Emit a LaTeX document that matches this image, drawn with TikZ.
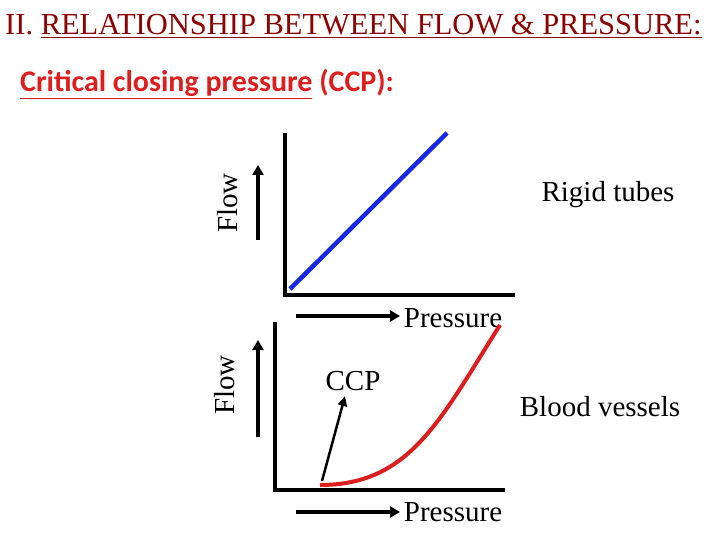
\documentclass[tikz,border=0pt]{standalone}
\usepackage{fontspec}
\setmainfont{Liberation Serif}
\newfontfamily\calib{Carlito}
\usetikzlibrary{arrows.meta}
\definecolor{dred}{RGB}{140,0,0}
\definecolor{bred}{RGB}{220,30,30}
\definecolor{cblue}{RGB}{20,40,230}
\begin{document}
\begin{tikzpicture}[x=1pt,y=-1pt,
  ax/.style={line width=3.5pt},
  arr/.style={line width=3.5pt,-{Triangle[length=10pt,width=11pt]}},
  lab/.style={font=\fontsize{29}{31}\selectfont}]
\useasboundingbox (0,0) rectangle (720,540);
% title
\node[anchor=base west,text=dred,font=\fontsize{30.5}{32}\selectfont,inner sep=0] (title) at (5,35) {II. \underline{RELATIONSHIP BETWEEN FLOW \& PRESSURE:}};
\node[anchor=base west,text=bred,font=\calib\bfseries\fontsize{30}{32}\selectfont,inner sep=0] (sub) at (20,92) {\underline{Critical closing pressure} (CCP):};
% top graph
\coordinate (t0) at (285,295);
\coordinate (ttop) at (285,133);
\coordinate (tr) at (515,295);
\draw[ax] (ttop) -- (t0) -- (tr);
\coordinate (b1) at (290,289);
\coordinate (b2) at (447,133);
\draw[cblue,line width=4.5pt] (b1) -- (b2);
\coordinate (fa1) at (258,240); \coordinate (fa2) at (258,165);
\draw[arr] (fa1) -- (fa2);
\node[lab,rotate=90] (flow1) at (228,203) {Flow};
\node[lab] (rigid) at (608,195) {Rigid tubes};
\coordinate (pa1) at (296,316); \coordinate (pa2) at (400,316);
\draw[arr] (pa1) -- (pa2);
\node[lab] (p1) at (453,318) {Pressure};
% bottom graph
\coordinate (u0) at (275,490);
\coordinate (utop) at (275,322);
\coordinate (ur) at (505,490);
\draw[ax] (utop) -- (u0) -- (ur);
\coordinate (c1) at (320,485); \coordinate (c2) at (500,325);
\draw[bred,line width=4pt] (c1) .. controls (410,485) and (440,420) .. (c2);
\coordinate (fb1) at (258,437); \coordinate (fb2) at (258,340);
\draw[arr] (fb1) -- (fb2);
\node[lab,rotate=90] (flow2) at (225,385) {Flow};
\node[lab] (ccp) at (353,381) {CCP};
\coordinate (ca1) at (322,481); \coordinate (ca2) at (345,396);
\draw[line width=2.5pt,-{Triangle[length=10pt,width=9pt]}] (ca1) -- (ca2);
\node[lab] (bv) at (600,407) {Blood vessels};
\coordinate (pb1) at (296,512); \coordinate (pb2) at (400,512);
\draw[arr] (pb1) -- (pb2);
\node[lab] (p2) at (453,512) {Pressure};
\end{tikzpicture}
\end{document}
